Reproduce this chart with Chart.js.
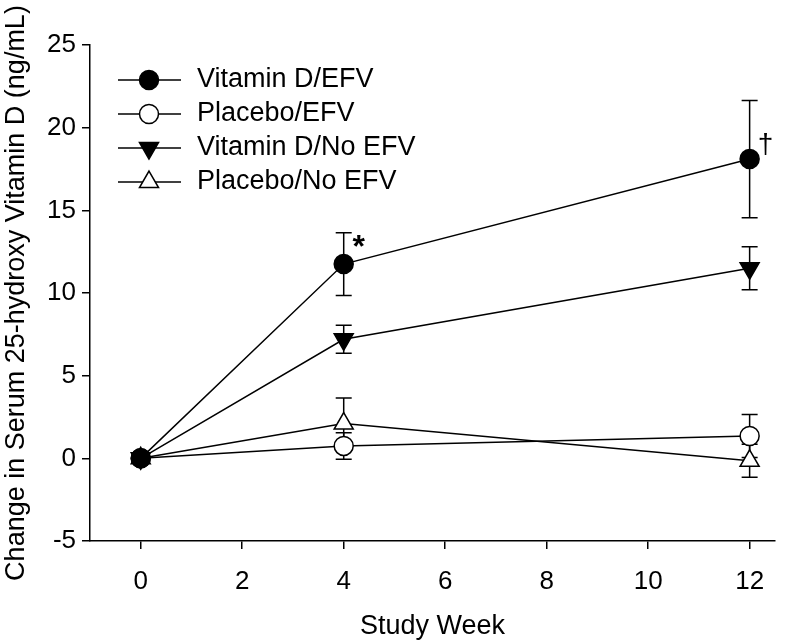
<!DOCTYPE html>
<html>
<head>
<meta charset="utf-8">
<script src="https://cdn.jsdelivr.net/npm/chart.js@4.4.1/dist/chart.umd.min.js"></script>
<style>
  html, body { margin: 0; padding: 0; background: #fff; }
  #wrap { width: 800px; height: 643px; }
</style>
</head>
<body>
<div id="wrap"><canvas id="chart" width="800" height="643"></canvas></div>
<script>
// study weeks and values
const weeks = [0, 4, 12]
const xTicks = [0, 2, 4, 6, 8, 10, 12]
const yTicks = [-5, 0, 5, 10, 15, 20, 25]

const seriesNames = ['Vitamin D/EFV', 'Placebo/EFV', 'Vitamin D/No EFV', 'Placebo/No EFV']

const vitD_EFV = [0, 11.75, 18.1]
const vitD_EFV_err = [0, 1.9, 3.55]

const placebo_EFV = [0, 0.75, 1.35]
const placebo_EFV_err = [0, 0.8, 1.3]

const vitD_noEFV = [0, 7.2, 11.5]
const vitD_noEFV_err = [0, 0.85, 1.3]

const placebo_noEFV = [0, 2.1, -0.15]
const placebo_noEFV_err = [0, 1.55, 1.0]

// significance marks: [series index, point index, text]
const marks = [[0, 1, '*'], [0, 2, '\u2020']]

const FONT = 'Liberation Sans, Arial, sans-serif'

var toPoints = (vals, errs) => weeks.map((w, i) => ({ x: w, y: vals[i], err: errs[i] }))

var makeSet = (label, vals, errs, style, fill, rot, radius) => ({
  label: label,
  data: toPoints(vals, errs),
  borderColor: '#000',
  borderWidth: 1.5,
  pointStyle: style,
  pointRotation: rot,
  pointRadius: radius,
  pointBackgroundColor: fill,
  pointBorderColor: '#000',
  pointBorderWidth: 1.5,
  tension: 0
})

// error bars go under the markers
const errorBars = {
  id: 'errorBars',
  beforeDatasetsDraw(chart) {
    const ctx = chart.ctx
    const ys = chart.scales.y
    ctx.save()
    ctx.strokeStyle = '#000'
    ctx.lineWidth = 1.5
    chart.data.datasets.forEach((ds, di) => {
      const meta = chart.getDatasetMeta(di)
      ds.data.forEach((p, i) => {
        if (!p.err) return
        const x = meta.data[i].x
        const top = ys.getPixelForValue(p.y + p.err)
        const bot = ys.getPixelForValue(p.y - p.err)
        ctx.beginPath()
        ctx.moveTo(x, top); ctx.lineTo(x, bot)
        ctx.moveTo(x - 8, top); ctx.lineTo(x + 8, top)
        ctx.moveTo(x - 8, bot); ctx.lineTo(x + 8, bot)
        ctx.stroke()
      })
    })
    ctx.restore()
  }
}

// legend with a line through the marker, inside the plot
const lineLegend = {
  id: 'lineLegend',
  afterDraw(chart) {
    const ctx = chart.ctx
    ctx.save()
    chart.data.datasets.forEach((ds, i) => {
      const y = 80 + i * 34
      ctx.strokeStyle = '#000'
      ctx.lineWidth = 1.5
      ctx.beginPath()
      ctx.moveTo(118, y); ctx.lineTo(181, y)
      ctx.stroke()
      ctx.fillStyle = ds.pointBackgroundColor
      ctx.strokeStyle = '#000'
      Chart.helpers.drawPoint(ctx, {
        pointStyle: ds.pointStyle, rotation: ds.pointRotation,
        radius: ds.pointRadius, borderWidth: 1.5
      }, 149, y)
      ctx.fillStyle = '#000'
      ctx.font = '27px ' + FONT
      ctx.textBaseline = 'middle'
      ctx.textAlign = 'left'
      ctx.fillText(ds.label, 197, y)
    })
    ctx.restore()
  }
}

const sigMarks = {
  id: 'sigMarks',
  afterDatasetsDraw(chart) {
    const ctx = chart.ctx
    ctx.save()
    ctx.fillStyle = '#000'
    ctx.textAlign = 'center'
    ctx.textBaseline = 'middle'
    for (let [di, pi, txt] of marks) {
      const pt = chart.getDatasetMeta(di).data[pi]
      if (txt === '*') {
        ctx.font = 'bold 32px ' + FONT
        ctx.fillText(txt, pt.x + 15, pt.y - 16)
      } else {
        ctx.font = '28px ' + FONT
        ctx.fillText(txt, pt.x + 16, pt.y - 14)
      }
    }
    ctx.restore()
  }
}

const ctx = document.getElementById('chart').getContext('2d')
globalThis.myChart = new Chart(ctx, {
  type: 'line',
  data: {
    datasets: [
      makeSet(seriesNames[0], vitD_EFV, vitD_EFV_err, 'circle', '#000', 0, 9.5),
      makeSet(seriesNames[1], placebo_EFV, placebo_EFV_err, 'circle', '#fff', 0, 9.5),
      makeSet(seriesNames[2], vitD_noEFV, vitD_noEFV_err, 'triangle', '#000', 180, 11),
      makeSet(seriesNames[3], placebo_noEFV, placebo_noEFV_err, 'triangle', '#fff', 0, 11)
    ]
  },
  options: {
    responsive: false,
    animation: false,
    layout: { padding: { top: 45, right: 25, left: 0, bottom: 0 } },
    plugins: { legend: { display: false }, tooltip: { enabled: false } },
    scales: {
      x: {
        type: 'linear',
        min: -1,
        max: 12.5,
        afterBuildTicks: (s) => { s.ticks = xTicks.map(v => ({ value: v })) },
        afterFit: (s) => { s.height = 102 },
        grid: { drawOnChartArea: false, drawTicks: true, tickLength: 8, color: '#000', lineWidth: 1.5 },
        border: { display: true, color: '#000', width: 1.5 },
        ticks: { color: '#000', font: { family: FONT, size: 26 }, padding: 17, maxRotation: 0 },
        title: { display: true, text: 'Study Week', color: '#000', font: { family: FONT, size: 27 }, padding: { top: 8, bottom: 0 } }
      },
      y: {
        min: -5,
        max: 25,
        afterBuildTicks: (s) => { s.ticks = yTicks.map(v => ({ value: v })) },
        afterFit: (s) => { s.width = 90 },
        grid: { drawOnChartArea: false, drawTicks: true, tickLength: 8, color: '#000', lineWidth: 1.5 },
        border: { display: true, color: '#000', width: 1.5 },
        ticks: { color: '#000', font: { family: FONT, size: 26 }, padding: 6 },
        title: { display: true, text: 'Change in Serum 25-hydroxy Vitamin D (ng/mL)', color: '#000', font: { family: FONT, size: 27 }, padding: { top: 0, bottom: 0 } }
      }
    }
  },
  plugins: [errorBars, lineLegend, sigMarks]
})
</script>
</body>
</html>
